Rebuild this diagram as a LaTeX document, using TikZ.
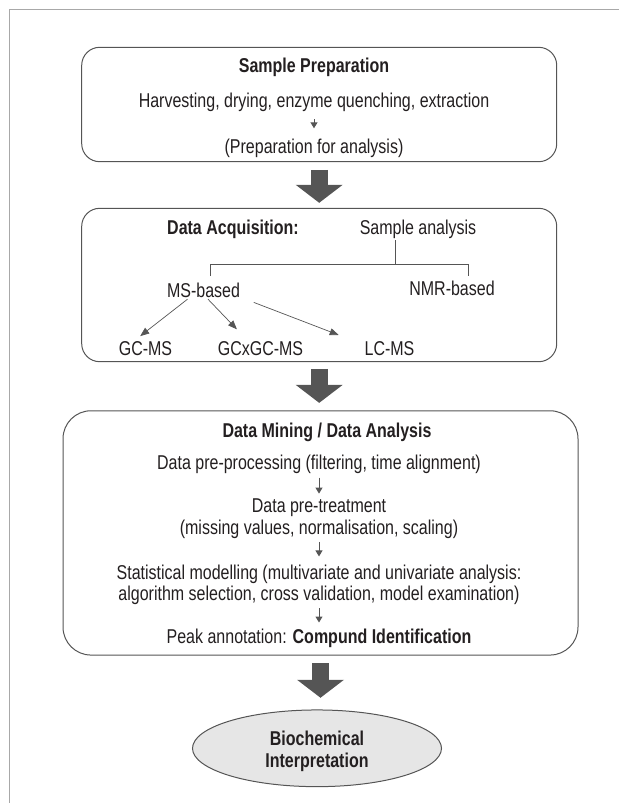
\documentclass[tikz,border=0pt]{standalone}
\usepackage{fontspec}
\setmainfont{Liberation Sans}[FakeStretch=0.8]
\usepackage{tikz}
\usetikzlibrary{calc, arrows.meta, shapes, positioning}
\definecolor{inkgray}{HTML}{231F20}
\definecolor{linegray}{HTML}{555555}
\definecolor{arrowgray}{HTML}{555555}
\definecolor{framegray}{HTML}{A8A8A8}
\definecolor{ovalgray}{HTML}{E6E6E6}
\newcommand{\mainsize}{\fontsize{20}{21.5}\selectfont}
\tikzset{
    stagebox/.style = {draw=linegray, rectangle, rounded corners=18pt, line width=1pt, inner sep=0em},
    textnode/.style = {draw=none, fill=none, rectangle, inner sep=0em, text=inkgray, font=\mainsize,
      text height=14pt, text depth=4pt},
    boldnode/.style = {textnode, font=\mainsize\bfseries},
    multinode/.style = {draw=none, fill=none, rectangle, inner sep=0em, text=inkgray, font=\mainsize, align=center},
    ellipsenode/.style = {draw=linegray, fill=ovalgray, ellipse, line width=1pt, inner sep=0em},
    treeline/.style = {linegray, line width=1pt},
    thinarrow/.style = {linegray, line width=0.7pt, -{Triangle[length=9pt, width=7pt]}},
    smallarrow/.style = {arrowgray, line width=1pt, -{Triangle[length=6pt, width=7pt]}},
    bigarrow/.style = {arrowgray, line width=17pt, -{Triangle[length=18pt, width=47pt, line width=0pt]}}
}

\begin{document}
\begin{tikzpicture}[x=1pt, y=-1pt]
    \useasboundingbox (0,0) rectangle (619,803);
    \draw [framegray, line width=1.2pt] (619,9.5) -- (9.5,9.5) -- (9.5,803);

    % sample preparation
    \node [stagebox, name=prep, minimum width=475pt, minimum height=114.4pt] at (319.2,104.5) {};
    \node [boldnode, name=prephead] at (314,67.7) {Sample Preparation};
    \node [textnode, name=harvest] at (314,102) {Harvesting, drying, enzyme quenching, extraction};
    \node [textnode, name=prepana] at (314,148) {(Preparation for analysis)};
    \draw [smallarrow, shorten <=8pt, shorten >=10.5pt] (harvest) -- (prepana);

    % data acquisition
    \node [stagebox, name=acq, minimum width=475pt, minimum height=153.4pt] at (319.2,285) {};
    \draw [bigarrow, shorten <=7.6pt, shorten >=5pt] (prep.south) -- (acq.north);

    \node [boldnode, name=acqhead] at (233,229) {Data Acquisition:};
    \node [textnode, name=sampana] at (418,229) {Sample analysis};
    \coordinate (split) at (395,264);
    \coordinate (msjoin) at (210.4,264);
    \coordinate (nmrjoin) at (468.6,264);
    \node [textnode, name=ms] at (203.5,292) {MS-based};
    \node [textnode, name=nmr] at (452,290.3) {NMR-based};
    \node [textnode, name=gcms] at (145.5,350.3) {GC-MS};
    \node [textnode, name=gcgcms] at (260.5,350.3) {GCxGC-MS};
    \node [textnode, name=lcms] at (389.5,350.3) {LC-MS};

    \draw [treeline, shorten <=2pt] (split |- sampana.south) -- (split);
    \draw [treeline] (msjoin) ++(0,12) -- (msjoin) -- (nmrjoin) -- ++(0,12);
    \draw [thinarrow] ($(ms.south)+(-16,-2)$) -- ($(gcms.north)+(-5.3,-5)$);
    \draw [thinarrow] ($(ms.south)+(4.5,-2)$) -- ($(gcgcms.north)+(-23.6,-11.8)$);
    \draw [thinarrow] ($(ms.south)+(50.3,1.2)$) -- ($(lcms.north)+(-50.8,-6.1)$);

    % data mining
    \node [stagebox, name=mining, rounded corners=28pt, minimum width=515pt, minimum height=244.3pt] at (320.5,532.9) {};
    \draw [bigarrow, shorten <=6.6pt, shorten >=7.4pt] (acq.south) -- (acq.south |- mining.north);

    \node [boldnode, name=mininghead] at (327,432) {Data Mining / Data Analysis};
    \node [textnode, name=preproc] at (319,464.3) {Data pre-processing (filtering, time alignment)};
    \node [multinode, name=pretreat] at (319,518.5) {Data pre-treatment\\(missing values, normalisation, scaling)};
    \node [multinode, name=stats] at (319,584.7) {Statistical modelling (multivariate and univariate analysis:\\
      algorithm selection, cross validation, model examination)};
    \node [textnode, name=peak] at (319,638.7) {Peak annotation: \textbf{Compund Identification}};
    \draw [smallarrow, shorten <=4pt, shorten >=5pt] (preproc) -- (pretreat);
    \draw [smallarrow, shorten <=3.5pt, shorten >=8pt] (pretreat) -- (stats);
    \draw [smallarrow, shorten <=3.5pt, shorten >=7pt] (stats) -- (peak);

    % interpretation
    \node [ellipsenode, name=bio, minimum width=249pt, minimum height=76.7pt] at (317,748.3) {};
    \node [multinode, name=biotext, font=\mainsize\bfseries] at (317,751.5) {Biochemical\\Interpretation};
    \draw [bigarrow, shorten <=7.7pt, shorten >=11.7pt] (mining.south) -- (mining.south |- bio.north);
\end{tikzpicture}
\end{document}
